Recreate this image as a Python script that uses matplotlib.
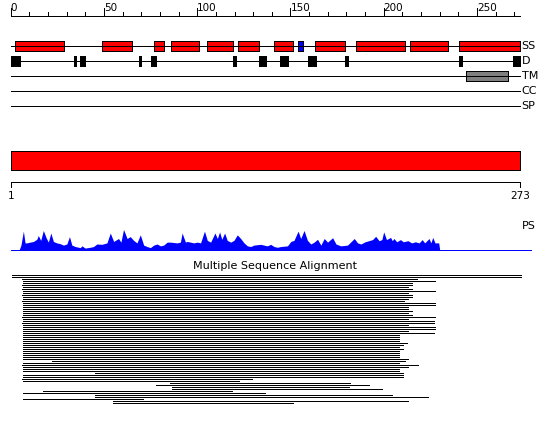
import matplotlib
matplotlib.use("Agg")
import matplotlib.pyplot as plt
from matplotlib.patches import Rectangle

seq_len = 273
ruler_major = [0, 50, 100, 150, 200, 250]
ruler_minor = [10, 20, 30, 40, 60, 70, 80, 90, 110, 120, 130, 140, 160, 170,
               180, 190, 210, 220, 230, 240, 260, 270]
track_names = ["SS", "D", "TM", "CC", "SP"]

# secondary structure (helix = red, strand = blue)
helix_start = [2.3, 48.7, 76.7, 85.8, 105.2, 121.8, 141.2, 163.2, 185.3, 214.3, 240.6]
helix_end = [28.8, 64.8, 82.0, 101.1, 119.1, 133.1, 151.4, 179.4, 211.6, 234.7, 273.0]
strand_start = [154.1]
strand_end = [156.5]

# disorder
dis_start = [0, 33.7, 36.9, 68.6, 75.4, 119.1, 133.1, 135.3, 144.6, 159.3, 161.1, 179.2, 240.6, 269.5]
dis_end = [5, 35.1, 39.8, 70.0, 78.1, 120.6, 134.6, 137.1, 148.5, 160.4, 163.6, 180.8, 241.9, 273]

# transmembrane
tm_start = [244.3]
tm_end = [266.4]

# domain bar
dom_start = [0]
dom_end = [273]

# PS profile
ps_pos = [4.6, 5.5, 6.8, 7.7, 8.6, 10.4, 12.2, 14.0, 14.8, 16.1,
          17.5, 19.0, 20.2, 21.5, 22.9, 24.7, 26.5, 28.3, 30.1, 31.5,
          32.8, 34.6, 37.3, 38.2, 39.9, 42.6, 44.4, 46.2, 48.9, 51.6,
          53.4, 55.2, 57.8, 59.1, 60.5, 62.4, 64.1, 65.9, 67.7, 69.5,
          71.3, 73.1, 74.9, 76.7, 78.5, 80.3, 82.0, 83.9, 85.6, 89.2,
          91.0, 91.9, 93.7, 94.6, 96.4, 98.2, 100.0, 101.8, 103.9, 105.4,
          107.2, 109.5, 110.8, 112.0, 113.2, 114.7, 116.1, 117.9, 119.7, 121.5,
          123.3, 125.1, 126.9, 128.7, 130.4, 134.0, 135.8, 137.6, 139.4, 141.2,
          143.0, 144.8, 148.4, 150.2, 151.9, 154.1, 155.5, 157.3, 159.1, 160.9,
          162.7, 164.5, 166.3, 168.1, 169.9, 172.6, 174.4, 177.0, 180.6, 184.2,
          186.0, 187.8, 190.0, 192.0, 194.0, 195.7, 197.5, 199.0, 200.0, 201.5,
          203.7, 204.6, 205.5, 207.0, 209.0, 210.5, 213.0, 215.0, 217.0, 219.0,
          220.6, 222.0, 224.3, 225.3, 226.3, 227.5, 229.5, 230.0]
ps_val = [0, 4, 16.7, 6, 6, 6.7, 7.3, 9.3, 12.7, 8.3,
          17.3, 10.7, 6.7, 15, 7.3, 6, 5.3, 4, 5, 11.7,
          4, 2.7, 1.7, 3.3, 1.3, 2, 2.7, 5, 4.7, 6,
          15, 7.3, 10, 6.7, 18.3, 10, 11.7, 8.3, 6, 13.3,
          4, 2.7, 1.7, 4, 5, 3.3, 4, 6.7, 6.7, 6,
          6.7, 15, 6.7, 7.3, 6.7, 6, 6.7, 6, 16.7, 8.3,
          6.7, 15, 10, 16, 9.3, 15, 8.3, 6.7, 8.3, 13.3,
          10, 6, 3.3, 2.7, 4, 4.7, 4, 3.3, 4.7, 2.7,
          2, 2.7, 3.3, 7.3, 8.3, 16.7, 10, 17.3, 8.3, 5,
          6.7, 9.3, 4, 10, 6.7, 10.7, 5, 3.3, 4, 10,
          6, 5, 7, 8, 9, 12, 8, 9, 16, 9,
          11, 8, 10, 7, 9, 7, 8, 6, 7, 6,
          9, 6, 10, 6, 11, 6, 6, 0]

# multiple sequence alignment rows
msa_start = [0.5, 0.5,
             5.9, 6.6, 6.6, 5.9, 6.6, 5.9, 6.6, 6.6, 5.9, 6.6,
             6.6, 5.9, 6.6, 6.6, 6.6, 6.6, 6.6, 6.6, 6.6, 5.9,
             6.6, 6.6, 5.9, 6.6, 6.6, 6.6, 6.6, 6.6, 6.6, 6.6,
             6.6, 6.6, 6.6, 6.6, 6.6, 6.6, 6.6, 6.6, 6.6, 6.6,
             6.6, 22.4, 6.6, 5.9, 6.6, 6.6, 6.6, 45.0, 6.6, 6.6,
             5.9, 6.6, 85.6, 77.8, 86.7, 86.7, 17.4, 6.6, 45.0, 45.0,
             6.6, 55.0, 55.0]
msa_end = [274, 274,
           218.6, 228.3, 215.6, 215.6, 213.4, 215.6, 228.3, 213.4, 215.6, 215.6,
           213.4, 211.6, 228.3, 228.3, 213.4, 213.4, 215.6, 213.4, 215.6, 228.3,
           213.4, 227.6, 227.6, 213.4, 228.3, 228.3, 213.4, 227.6, 208.6, 208.6,
           208.6, 208.6, 212.9, 210.8, 208.6, 210.8, 208.6, 208.6, 208.6, 208.6,
           213.4, 212.0, 208.6, 218.8, 213.4, 208.6, 208.6, 210.8, 210.8, 210.8,
           129.7, 122.7, 182.6, 192.5, 181.9, 199.5, 119.3, 136.7, 205.2, 224.5,
           71.7, 213.4, 152.0]

W, H = 550, 425
px = 1.865            # pixels per residue
x0 = -10.7 / px
lw = 72 / 100         # one pixel

fig = plt.figure(figsize=(5.5, 4.25), dpi=100)
ax = fig.add_axes([0, 0, 1, 1])
ax.set_xlim(x0, x0 + W / px)
ax.set_ylim(H, 0)
ax.axis("off")

# top ruler
ax.hlines(15.5, 0, seq_len, color="black", lw=lw, antialiased=False)
ax.vlines(ruler_major, 8, 15.5, color="black", lw=lw, antialiased=False)
ax.vlines(ruler_minor, 12, 15.5, color="black", lw=lw, antialiased=False)
for m in ruler_major:
    ax.text(m, 10.5, str(m), ha="left", va="baseline", fontsize=7.5)

# tracks
track_y = [45.5, 60.5, 75.5, 90.5, 105.5]
for name, ty in zip(track_names, track_y):
    ax.hlines(ty, 0, seq_len, color="black", lw=lw, antialiased=False)
    ax.text(seq_len + 1, ty, name, ha="left", va="center", fontsize=8)

for s, e in zip(helix_start, helix_end):
    ax.add_patch(Rectangle((s, 41), e - s, 9.5, fc="#ff0000", ec="black", lw=lw, antialiased=False))
for s, e in zip(strand_start, strand_end):
    ax.add_patch(Rectangle((s, 41), e - s, 9.5, fc="#0000ff", ec="black", lw=lw, antialiased=False))
for s, e in zip(dis_start, dis_end):
    ax.add_patch(Rectangle((s, 55.5), e - s, 10, fc="black", ec="black", lw=lw, antialiased=False))
for s, e in zip(tm_start, tm_end):
    ax.add_patch(Rectangle((s, 70.5), e - s, 10, fc="#808080", ec="black", lw=lw, antialiased=False))

# domain bar and its ruler
for s, e in zip(dom_start, dom_end):
    ax.add_patch(Rectangle((s, 150.5), e - s, 19.5, fc="#ff0000", ec="black", lw=lw, antialiased=False))
ax.hlines(181.5, 0, seq_len, color="black", lw=lw, antialiased=False)
ax.vlines([0, seq_len], 181.5, 186.5, color="black", lw=lw, antialiased=False)
ax.text(0, 196, "1", ha="center", va="center", fontsize=7.5)
ax.text(seq_len, 196, str(seq_len), ha="center", va="center", fontsize=7.5)

# PS profile
base = 249.5
ax.fill_between(ps_pos, base, [base - 1.1 * v for v in ps_val], color="#0000ff", lw=0)
ax.hlines(base, 0, 279, color="#0000ff", lw=lw, antialiased=False)
ax.text(seq_len + 1, 226, "PS", ha="left", va="center", fontsize=8)

# MSA
ax.text(141.5, 266, "Multiple Sequence Alignment", ha="center", va="center", fontsize=8)
msa_y = [275.5 + 2 * k for k in range(len(msa_start))]
msa_len = [e - s for s, e in zip(msa_start, msa_end)]
ax.barh(msa_y, msa_len, left=msa_start, height=1.0, color="black",
        linewidth=0, antialiased=False)

fig.savefig("out.png", dpi=100)
